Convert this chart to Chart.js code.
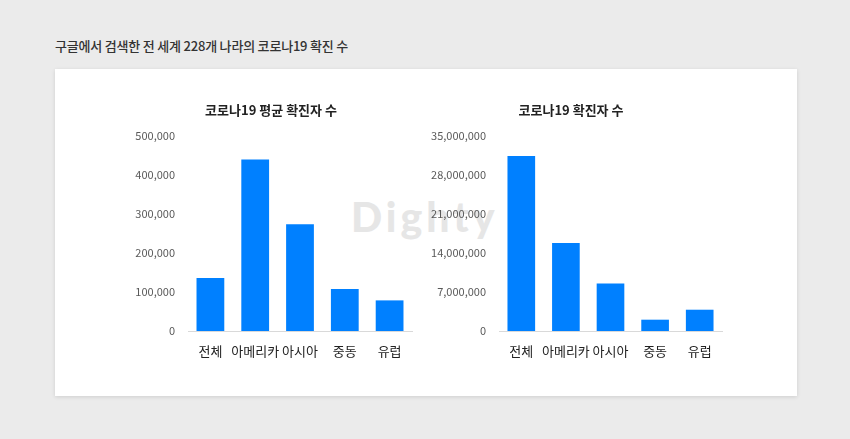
<!DOCTYPE html>
<html>
<head>
<meta charset="utf-8">
<script src="https://cdn.jsdelivr.net/npm/chart.js@4/dist/chart.umd.min.js"></script>
<style>
html,body{margin:0;padding:0;}
body{width:850px;height:439px;background:#ebebeb;position:relative;overflow:hidden;font-family:"Noto Sans CJK KR","Noto Sans",sans-serif;}
#title{position:absolute;left:55px;top:36px;font-size:13px;font-weight:500;color:#333;letter-spacing:-0.2px;}
#card{position:absolute;left:55px;top:69px;width:742px;height:327px;background:#fff;box-shadow:0 1px 4px rgba(0,0,0,0.12);}
#wm{position:absolute;left:351px;top:192px;font-family:"Lato","Inter",sans-serif;font-weight:900;font-size:41px;letter-spacing:4px;color:#e6e6e6;}
.box{position:absolute;}
#b1{left:130px;top:92px;width:290px;height:280px;}
#b2{left:420px;top:92px;width:310px;height:280px;}
</style>
</head>
<body>
<div id="title">구글에서 검색한 전 세계 228개 나라의 코로나19 확진 수</div>
<div id="card"></div>
<div id="wm">Dighty</div>
<div class="box" id="b1"><canvas id="c1"></canvas></div>
<div class="box" id="b2"><canvas id="c2"></canvas></div>
<script>
const categories = ['전체','아메리카','아시아','중동','유럽'];
const avgCases = [136000, 440000, 274000, 108000, 78500];
const totalCases = [31400000, 15800000, 8530000, 2030000, 3820000];
const avgTicks = {min:0, max:500000, step:100000};
const totalTicks = {min:0, max:35000000, step:7000000};
const chartTitles = ['코로나19 평균 확진자 수','코로나19 확진자 수'];

const FONT = '"Noto Sans CJK KR","Noto Sans",sans-serif';

function makeChart(id, title, values, tk, yWidth){
  return new Chart(document.getElementById(id), {
    type:'bar',
    data:{labels:categories, datasets:[{data:values, backgroundColor:'#0080ff', barPercentage:0.62, categoryPercentage:1.0}]},
    options:{
      responsive:true, maintainAspectRatio:false, animation:false,
      layout:{padding:{left:0,right:8,top:0,bottom:0}},
      plugins:{
        legend:{display:false}, tooltip:{enabled:false},
        title:{display:true, text:title, color:'#222', font:{family:FONT, size:13, weight:'bold'}, padding:{top:10,bottom:18.4}}
      },
      scales:{
        x:{
          grid:{display:false, drawTicks:false},
          border:{color:'#d9d9d9', width:1},
          ticks:{color:'#222', font:{family:FONT, size:13}, padding:12, maxRotation:0, minRotation:0, autoSkip:false},
          afterFit:s=>{s.height=41;}
        },
        y:{
          min:tk.min, max:tk.max,
          grid:{display:false, drawTicks:false},
          border:{display:false},
          ticks:{stepSize:tk.step, color:'#595959', font:{family:FONT, size:11}, padding:13,
            callback:v=>v.toLocaleString('en-US')},
          afterFit:s=>{s.width=yWidth;}
        }
      }
    }
  });
}
makeChart('c1', chartTitles[0], avgCases, avgTicks, 58);
makeChart('c2', chartTitles[1], totalCases, totalTicks, 79);
</script>
</body>
</html>
